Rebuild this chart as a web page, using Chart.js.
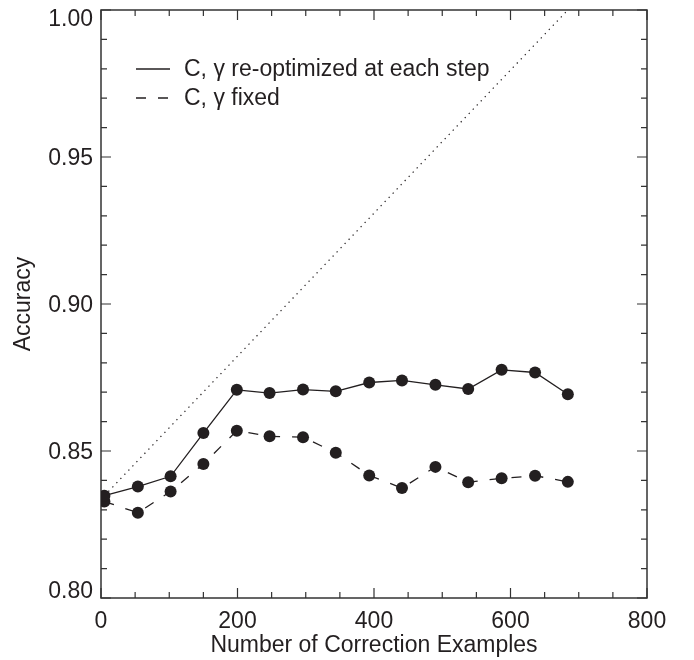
<!DOCTYPE html>
<html>
<head>
<meta charset="utf-8">
<script src="https://cdn.jsdelivr.net/npm/chart.js@4.4.0/dist/chart.umd.min.js"></script>
<style>
  html, body { margin: 0; padding: 0; background: #fff; }
  #wrap { width: 694px; height: 660px; }
</style>
</head>
<body>
<div id="wrap"><canvas id="accChart"></canvas></div>
<script>
// values
var examples = [5, 54, 102, 150, 199, 247, 296, 344, 393, 441, 490, 538, 587, 636, 684];
var accReoptimized = [0.8348, 0.8379, 0.8414, 0.8561, 0.8708, 0.8697, 0.8709, 0.8703, 0.8733, 0.8740, 0.8725, 0.8711, 0.8776, 0.8767, 0.8693];
var accFixed = [0.8328, 0.8290, 0.8362, 0.8456, 0.8569, 0.8550, 0.8547, 0.8494, 0.8417, 0.8374, 0.8446, 0.8394, 0.8407, 0.8416, 0.8395];
var guideX = [5, 684];
var guideY = [0.8348, 1.00];

var xTicks = [0, 200, 400, 600, 800];
var yTicks = [0.80, 0.85, 0.90, 0.95, 1.00];
var seriesNames = ['C, \u03b3 re-optimized at each step', 'C, \u03b3 fixed'];
var xTitle = 'Number of Correction Examples';
var yTitle = 'Accuracy';

var ink = '#231f20';
var fontFamily = '"Liberation Sans", Arial, Helvetica, sans-serif';

function toPoints(xs, ys) {
    var pts = [];
    for (var i = 0; i < xs.length; i++) pts.push({x: xs[i], y: ys[i]});
    return pts;
}

// frame, inward ticks on all four sides, tick labels, legend
var idlFrame = {
    id: 'idlFrame',
    beforeDatasetsDraw: function(chart) {
        var ctx = chart.ctx, a = chart.chartArea;
        var xs = chart.scales.x, ys = chart.scales.y;
        ctx.save();
        ctx.strokeStyle = '#333';
        ctx.lineWidth = 1.5;
        ctx.strokeRect(a.left, a.top, a.right - a.left, a.bottom - a.top);

        ctx.lineWidth = 1.2;
        ctx.beginPath();
        for (var v = 0; v <= 800; v += 50) {
            var px = xs.getPixelForValue(v);
            var len = (v % 200 === 0) ? 10 : 6;
            ctx.moveTo(px, a.bottom); ctx.lineTo(px, a.bottom - len);
            ctx.moveTo(px, a.top); ctx.lineTo(px, a.top + len);
        }
        for (var k = 0; k <= 20; k++) {
            var py = ys.getPixelForValue(0.80 + k * 0.01);
            var l2 = (k % 5 === 0) ? 10 : 6;
            ctx.moveTo(a.left, py); ctx.lineTo(a.left + l2, py);
            ctx.moveTo(a.right, py); ctx.lineTo(a.right - l2, py);
        }
        ctx.stroke();
        ctx.restore();
    },
    afterDraw: function(chart) {
        var ctx = chart.ctx, a = chart.chartArea;
        var xs = chart.scales.x, ys = chart.scales.y;
        ctx.save();
        ctx.fillStyle = ink;
        ctx.font = '23px ' + fontFamily;
        ctx.textBaseline = 'alphabetic';

        ctx.textAlign = 'center';
        xTicks.forEach(function(t) {
            ctx.fillText(String(t), xs.getPixelForValue(t), a.bottom + 30);
        });

        ctx.textAlign = 'right';
        yTicks.forEach(function(t) {
            var base = ys.getPixelForValue(t) + 8;
            if (base > a.bottom) base = a.bottom;
            if (base < a.top + 16) base = a.top + 16;
            ctx.fillText(t.toFixed(2), a.left - 8, base);
        });

        // legend
        ctx.textAlign = 'left';
        ctx.textBaseline = 'middle';
        var rows = [69, 98];
        for (var i = 0; i < 2; i++) {
            var ds = chart.data.datasets[i];
            ctx.save();
            ctx.strokeStyle = ink;
            ctx.lineWidth = 1.3;
            ctx.setLineDash(ds.borderDash || []);
            ctx.beginPath();
            ctx.moveTo(136, rows[i]);
            ctx.lineTo(170, rows[i]);
            ctx.stroke();
            ctx.restore();
            ctx.fillText(ds.label, 184, rows[i] + 1);
        }
        ctx.restore();
    }
};

Chart.defaults.color = ink;
Chart.defaults.font.family = fontFamily;

var chart = new Chart(document.getElementById('accChart').getContext('2d'), {
    type: 'line',
    data: {
        datasets: [{
            label: seriesNames[0],
            data: toPoints(examples, accReoptimized),
            borderColor: ink,
            borderWidth: 1.3,
            pointRadius: 6,
            pointBackgroundColor: ink,
            pointBorderWidth: 0,
            tension: 0
        }, {
            label: seriesNames[1],
            data: toPoints(examples, accFixed),
            borderColor: ink,
            borderWidth: 1.3,
            borderDash: [10, 12],
            pointRadius: 6,
            pointBackgroundColor: ink,
            pointBorderWidth: 0,
            tension: 0
        }, {
            label: 'guide',
            data: toPoints(guideX, guideY),
            borderColor: ink,
            borderWidth: 1.2,
            borderDash: [1.3, 4.5],
            pointRadius: 0,
            tension: 0
        }]
    },
    options: {
        responsive: true,
        maintainAspectRatio: false,
        animation: false,
        layout: { padding: { top: 10, right: 47, left: 0, bottom: 0 } },
        plugins: { legend: { display: false }, tooltip: { enabled: false } },
        scales: {
            x: {
                type: 'linear',
                min: 0, max: 800,
                grid: { display: false },
                border: { display: false },
                ticks: { display: false },
                title: { display: true, text: xTitle, font: { size: 23 }, padding: { top: 0, bottom: 1 } },
                afterFit: function(scale) { scale.height = 62; }
            },
            y: {
                min: 0.80, max: 1.00,
                grid: { display: false },
                border: { display: false },
                ticks: { display: false },
                title: { display: true, text: yTitle, font: { size: 23 }, padding: { top: 10, bottom: 0 } },
                afterFit: function(scale) { scale.width = 101; }
            }
        }
    },
    plugins: [idlFrame]
});
</script>
</body>
</html>
